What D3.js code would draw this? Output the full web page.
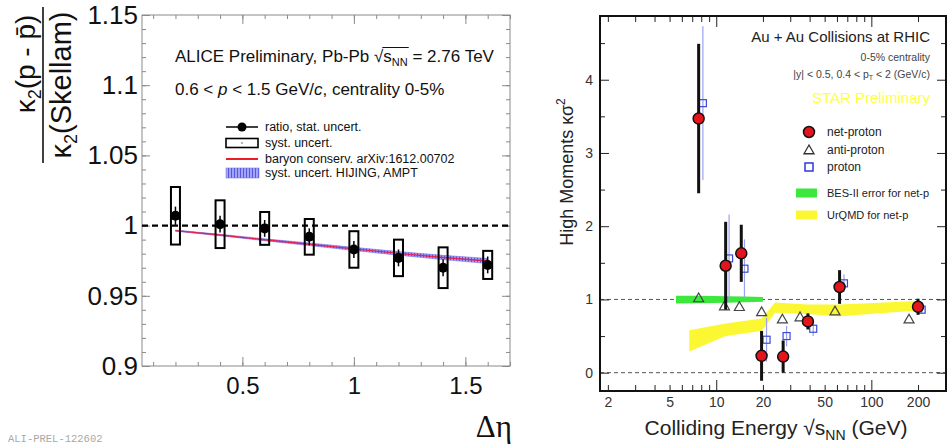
<!DOCTYPE html>
<html>
<head>
<meta charset="utf-8">
<script src="https://cdn.jsdelivr.net/npm/d3@7"></script>
<style>
  body { margin: 0; background: #fff; }
  svg { display: block; font-family: "Liberation Sans", Arial, sans-serif; }
</style>
</head>
<body>
<div id="chart"></div>
<script>
// left panel: ALICE ratio vs delta eta
var detaVals = [0.2, 0.4, 0.6, 0.8, 1.0, 1.2, 1.4, 1.6];
var ratioVals = [1.007, 1.001, 0.998, 0.992, 0.983, 0.977, 0.970, 0.972];
var statErr = [0.0025, 0.002, 0.002, 0.002, 0.002, 0.002, 0.002, 0.002];
var systErr = [0.0205, 0.017, 0.0117, 0.0127, 0.013, 0.013, 0.0145, 0.010];
var baryonVals = [0.9964, 0.9933, 0.9899, 0.9867, 0.9834, 0.9802, 0.9773, 0.9748];
var hijingErr = [0.0004, 0.0005, 0.0007, 0.0009, 0.0011, 0.0013, 0.0015, 0.0018];
var leftYTicks = [0.9, 0.95, 1, 1.05, 1.1, 1.15];
var leftXTicks = [0.5, 1, 1.5];

// right panel: STAR kappa sigma^2 vs energy
var netpEnergy = [7.7, 11.5, 14.5, 19.6, 27, 39, 62.4, 200];
var netpVals = [3.47, 1.46, 1.63, 0.23, 0.22, 0.70, 1.17, 0.90];
var netpErr = [1.02, 0.60, 0.39, 0.34, 0.22, 0.11, 0.23, 0.11];
var antiEnergy = [7.7, 11.3, 14.1, 19.6, 26.7, 34.7, 58.3, 175];
var antiVals = [1.02, 0.91, 0.90, 0.83, 0.73, 0.76, 0.84, 0.73];
var protonEnergy = [8.2, 12.1, 15.2, 21.1, 28.4, 42.2, 66.6, 211];
var protonVals = [3.68, 1.56, 1.42, 0.45, 0.50, 0.60, 1.22, 0.86];
var protonErr = [1.05, 0.60, 0.40, 0.30, 0.14, 0.10, 0.12, 0.05];
var besEnergy = [5.5, 11.5, 20];
var besLow = [0.945, 0.955, 0.97];
var besHigh = [1.05, 1.045, 1.035];
var urqmdEnergy = [6.7, 11.5, 19.6, 24, 39, 62.4, 200];
var urqmdLow = [0.29, 0.50, 0.57, 0.82, 0.80, 0.77, 0.85];
var urqmdHigh = [0.58, 0.67, 0.74, 0.96, 0.93, 0.93, 0.98];
var rightXTicks = [2, 5, 10, 20, 50, 100, 200];
var rightYTicks = [0, 1, 2, 3, 4];

var svg = d3.select("#chart").append("svg")
  .attr("width", 947).attr("height", 447);

var defs = svg.append("defs");
var pat = defs.append("pattern").attr("id", "hatch")
  .attr("patternUnits", "userSpaceOnUse").attr("width", 3).attr("height", 3);
pat.append("rect").attr("width", 3).attr("height", 3).attr("fill", "#a4a4f4");
pat.append("line").attr("x1", 0.5).attr("x2", 0.5).attr("y1", 0).attr("y2", 3)
  .attr("stroke", "#5656e4").attr("stroke-width", 1);

function addAxis(parent, axis, tx, ty, color) {
  var g = parent.append("g")
    .attr("transform", "translate(" + tx + "," + ty + ")")
    .call(axis);
  g.select(".domain").remove();
  g.selectAll(".tick line").attr("stroke", color);
  return g;
}

function fmt(d) { return String(+d.toFixed(2)); }

// ---------------- left panel ----------------
var xL = d3.scaleLinear().domain([0.05, 1.7]).range([142, 510]);
var yL = d3.scaleLinear().domain([0.9, 1.15]).range([366, 15]);
var left = svg.append("g");
var grey = "#8a8a8a";

var minorYL = d3.range(0, 26).map(function(i) { return +(0.9 + i * 0.01).toFixed(2); });
var minorXL = d3.range(1, 18).map(function(i) { return +(i * 0.1).toFixed(1); });

left.append("rect").attr("x", 142).attr("y", 15).attr("width", 368).attr("height", 351)
  .attr("fill", "none").attr("stroke", grey).attr("stroke-width", 1);

addAxis(left, d3.axisLeft(yL).tickValues(minorYL).tickSize(-4).tickFormat(""), 142, 0, grey);
addAxis(left, d3.axisRight(yL).tickValues(minorYL).tickSize(-4).tickFormat(""), 510, 0, grey);
addAxis(left, d3.axisRight(yL).tickValues(leftYTicks).tickSize(-8).tickFormat(""), 510, 0, grey);
var ylAx = addAxis(left, d3.axisLeft(yL).tickValues(leftYTicks).tickSize(-8).tickPadding(4).tickFormat(fmt), 142, 0, grey);
ylAx.attr("font-size", 26).attr("font-family", "Liberation Sans, Arial, sans-serif");
ylAx.selectAll("text").attr("fill", "#111");

addAxis(left, d3.axisBottom(xL).tickValues(minorXL).tickSize(-4).tickFormat(""), 0, 366, grey);
addAxis(left, d3.axisTop(xL).tickValues(minorXL).tickSize(-4).tickFormat(""), 0, 15, grey);
addAxis(left, d3.axisTop(xL).tickValues(leftXTicks).tickSize(-9).tickFormat(""), 0, 15, grey);
var xlAx = addAxis(left, d3.axisBottom(xL).tickValues(leftXTicks).tickSize(-9).tickPadding(11).tickFormat(fmt), 0, 366, grey);
xlAx.attr("font-size", 24).attr("font-family", "Liberation Sans, Arial, sans-serif");
xlAx.selectAll("text").attr("fill", "#111");

// reference line at 1
left.append("line").attr("x1", xL(0.05)).attr("x2", xL(1.7))
  .attr("y1", yL(1)).attr("y2", yL(1))
  .attr("stroke", "#000").attr("stroke-width", 2.2).attr("stroke-dasharray", "6,4");

var idx = d3.range(detaVals.length);

// HIJING/AMPT band + baryon conservation line
var band = d3.area()
  .x(function(i) { return xL(detaVals[i]); })
  .y0(function(i) { return yL(baryonVals[i] - hijingErr[i]); })
  .y1(function(i) { return yL(baryonVals[i] + hijingErr[i]); });
left.append("path").attr("d", band(idx)).attr("fill", "url(#hatch)").attr("stroke", "#7070ee").attr("stroke-width", 0.6);
left.append("path")
  .attr("d", d3.line().x(function(i) { return xL(detaVals[i]); }).y(function(i) { return yL(baryonVals[i]); })(idx))
  .attr("fill", "none").attr("stroke", "#e3245a").attr("stroke-width", 1.4);

// syst boxes
left.selectAll(".syst").data(idx).join("rect")
  .attr("class", "syst")
  .attr("x", function(i) { return xL(detaVals[i]) - 4.5; })
  .attr("width", 9)
  .attr("y", function(i) { return yL(ratioVals[i] + systErr[i]); })
  .attr("height", function(i) { return yL(ratioVals[i] - systErr[i]) - yL(ratioVals[i] + systErr[i]); })
  .attr("fill", "none").attr("stroke", "#000").attr("stroke-width", 2);

// stat bars and points
left.selectAll(".stat").data(idx).join("line")
  .attr("class", "stat")
  .attr("x1", function(i) { return xL(detaVals[i]); })
  .attr("x2", function(i) { return xL(detaVals[i]); })
  .attr("y1", function(i) { return yL(ratioVals[i] + statErr[i] + 0.004); })
  .attr("y2", function(i) { return yL(ratioVals[i] - statErr[i] - 0.004); })
  .attr("stroke", "#000").attr("stroke-width", 1.5);
left.selectAll(".pt").data(idx).join("circle")
  .attr("class", "pt")
  .attr("cx", function(i) { return xL(detaVals[i]); })
  .attr("cy", function(i) { return yL(ratioVals[i]); })
  .attr("r", 5).attr("fill", "#000");

// header texts
var t1 = left.append("text").attr("x", 175).attr("y", 62).attr("font-size", 17).attr("fill", "#111");
t1.append("tspan").text("ALICE Preliminary, Pb-Pb \u221A");
t1.append("tspan").text("s");
t1.append("tspan").attr("font-size", 11).attr("dy", 4).text("NN");
t1.append("tspan").attr("dy", -4).text(" = 2.76 TeV");
// overline of the square root
var pre = "ALICE Preliminary, Pb-Pb \u221A".length;
var node = t1.node();
var ox0 = 175 + node.getSubStringLength(0, pre) - 1;
var ox1 = 175 + node.getSubStringLength(0, pre + 3) + 1;
left.append("line").attr("x1", ox0).attr("x2", ox1).attr("y1", 62 - 14.5).attr("y2", 62 - 14.5)
  .attr("stroke", "#111").attr("stroke-width", 1);

var t2 = left.append("text").attr("x", 175).attr("y", 95).attr("font-size", 17).attr("fill", "#111");
t2.append("tspan").text("0.6 < ");
t2.append("tspan").attr("font-style", "italic").text("p");
t2.append("tspan").text(" < 1.5 GeV/");
t2.append("tspan").attr("font-style", "italic").text("c");
t2.append("tspan").text(", centrality 0-5%");

// legend
var lgx0 = 226, lgx1 = 258, lgTx = 265;
var lgRows = [127, 143, 159, 173];
var lgText = ["ratio, stat. uncert.", "syst. uncert.", "baryon conserv. arXiv:1612.00702", "syst. uncert. HIJING, AMPT"];
left.append("line").attr("x1", lgx0).attr("x2", lgx1).attr("y1", lgRows[0]).attr("y2", lgRows[0])
  .attr("stroke", "#000").attr("stroke-width", 1.5);
left.append("circle").attr("cx", (lgx0 + lgx1) / 2).attr("cy", lgRows[0]).attr("r", 4.5).attr("fill", "#000");
left.append("rect").attr("x", lgx0).attr("y", lgRows[1] - 4.5).attr("width", lgx1 - lgx0).attr("height", 9)
  .attr("fill", "none").attr("stroke", "#000").attr("stroke-width", 1.6);
left.append("circle").attr("cx", (lgx0 + lgx1) / 2).attr("cy", lgRows[1]).attr("r", 0.8).attr("fill", "#555");
left.append("line").attr("x1", lgx0).attr("x2", lgx1).attr("y1", lgRows[2]).attr("y2", lgRows[2])
  .attr("stroke", "#ee1c2a").attr("stroke-width", 2);
left.append("rect").attr("x", lgx0).attr("y", lgRows[3] - 5).attr("width", lgx1 - lgx0 + 1).attr("height", 10)
  .attr("fill", "url(#hatch)").attr("stroke", "#7a7aee").attr("stroke-width", 0.6);
left.selectAll(".lgt").data(lgText).join("text")
  .attr("class", "lgt")
  .attr("x", lgTx).attr("y", function(d, i) { return lgRows[i] + 4.3; })
  .attr("font-size", 12.5).attr("fill", "#111")
  .text(function(d) { return d; });

// y title as a fraction
var frac = svg.append("g").attr("transform", "translate(43,85) rotate(-90)");
frac.append("line").attr("x1", -78).attr("x2", 78).attr("y1", 0).attr("y2", 0)
  .attr("stroke", "#111").attr("stroke-width", 1.6);
var num = frac.append("text").attr("x", 21).attr("y", -8).attr("text-anchor", "middle")
  .attr("font-size", 28).attr("fill", "#111");
num.append("tspan").text("\u03BA");
num.append("tspan").attr("font-size", 18).attr("dy", 6).text("2");
num.append("tspan").attr("dy", -6).text("(p - p\u0304)");
var den = frac.append("text").attr("x", 0).attr("y", 28).attr("text-anchor", "middle")
  .attr("font-size", 29).attr("fill", "#111");
den.append("tspan").text("\u03BA");
den.append("tspan").attr("font-size", 18).attr("dy", 6).text("2");
den.append("tspan").attr("dy", -6).text("(Skellam)");

// x title
left.append("text").attr("x", 512).attr("y", 437).attr("text-anchor", "end")
  .attr("font-family", "Liberation Serif, Times New Roman, serif").attr("font-size", 31).attr("fill", "#111")
  .text("\u0394\u03B7");

svg.append("text").attr("x", 8).attr("y", 442)
  .attr("font-family", "Liberation Mono, DejaVu Sans Mono, monospace").attr("font-size", 10.5)
  .attr("fill", "#a8a8a8").text("ALI-PREL-122602");

// ---------------- right panel ----------------
var xR = d3.scaleLog().domain([1.78, 303]).range([600, 946]);
var yR = d3.scaleLinear().domain([-0.25, 4.87]).range([391, 16]);
var right = svg.append("g");
var ink = "#222";

var minorXR = [2, 3, 4, 5, 6, 7, 8, 9, 20, 30, 40, 50, 60, 70, 80, 90, 200, 300];
var majorXR = [10, 100];
var minorYR = [0.5, 1.5, 2.5, 3.5, 4.5];

// dashed reference lines
right.selectAll(".ref").data([0, 1]).join("line")
  .attr("class", "ref")
  .attr("x1", xR(1.78)).attr("x2", xR(303))
  .attr("y1", function(d) { return yR(d); }).attr("y2", function(d) { return yR(d); })
  .attr("stroke", "#555").attr("stroke-width", 1).attr("stroke-dasharray", "4,3");

// bands
var besIdx = d3.range(besEnergy.length);
right.append("path")
  .attr("d", d3.area().curve(d3.curveMonotoneX)
    .x(function(i) { return xR(besEnergy[i]); })
    .y0(function(i) { return yR(besLow[i]); })
    .y1(function(i) { return yR(besHigh[i]); })(besIdx))
  .attr("fill", "#3be83b");
var uIdx = d3.range(urqmdEnergy.length);
right.append("path")
  .attr("d", d3.area()
    .x(function(i) { return xR(urqmdEnergy[i]); })
    .y0(function(i) { return yR(urqmdLow[i]); })
    .y1(function(i) { return yR(urqmdHigh[i]); })(uIdx))
  .attr("fill", "#fbf733");

var nIdx = d3.range(netpEnergy.length);

// proton
right.selectAll(".pbar").data(nIdx).join("line")
  .attr("class", "pbar")
  .attr("x1", function(i) { return xR(protonEnergy[i]); })
  .attr("x2", function(i) { return xR(protonEnergy[i]); })
  .attr("y1", function(i) { return yR(protonVals[i] + protonErr[i]); })
  .attr("y2", function(i) { return yR(protonVals[i] - protonErr[i]); })
  .attr("stroke", "#9aa2f0").attr("stroke-width", 1.2);
right.selectAll(".psq").data(nIdx).join("rect")
  .attr("class", "psq")
  .attr("x", function(i) { return xR(protonEnergy[i]) - 3.5; })
  .attr("y", function(i) { return yR(protonVals[i]) - 3.5; })
  .attr("width", 7).attr("height", 7)
  .attr("fill", "none").attr("stroke", "#3a4ad8").attr("stroke-width", 1.2);

// anti-proton
function tri(cx, cy, s) {
  return "M" + cx + "," + (cy - s) + "L" + (cx + s) + "," + (cy + s * 0.75) + "L" + (cx - s) + "," + (cy + s * 0.75) + "Z";
}
right.selectAll(".atri").data(nIdx).join("path")
  .attr("class", "atri")
  .attr("d", function(i) { return tri(xR(antiEnergy[i]), yR(antiVals[i]), 5); })
  .attr("fill", "none").attr("stroke", "#444").attr("stroke-width", 1.2);

// net-proton
right.selectAll(".nbar").data(nIdx).join("line")
  .attr("class", "nbar")
  .attr("x1", function(i) { return xR(netpEnergy[i]); })
  .attr("x2", function(i) { return xR(netpEnergy[i]); })
  .attr("y1", function(i) { return yR(netpVals[i] + netpErr[i]); })
  .attr("y2", function(i) { return yR(netpVals[i] - netpErr[i]); })
  .attr("stroke", "#111").attr("stroke-width", 3);
right.selectAll(".ncirc").data(nIdx).join("circle")
  .attr("class", "ncirc")
  .attr("cx", function(i) { return xR(netpEnergy[i]); })
  .attr("cy", function(i) { return yR(netpVals[i]); })
  .attr("r", 5.5)
  .attr("fill", "#e4141c").attr("stroke", "#111").attr("stroke-width", 1.5);

// axes
addAxis(right, d3.axisBottom(xR).tickValues(minorXR).tickSize(-6).tickFormat(""), 0, 391, ink);
addAxis(right, d3.axisBottom(xR).tickValues(majorXR).tickSize(-11).tickFormat(""), 0, 391, ink);
addAxis(right, d3.axisTop(xR).tickValues(minorXR).tickSize(-6).tickFormat(""), 0, 16, ink);
addAxis(right, d3.axisTop(xR).tickValues(majorXR).tickSize(-11).tickFormat(""), 0, 16, ink);
var xrAx = addAxis(right, d3.axisBottom(xR).tickValues(rightXTicks).tickSize(0).tickPadding(6).tickFormat(d3.format("d")), 0, 391, ink);
xrAx.attr("font-size", 14).attr("font-family", "Liberation Sans, Arial, sans-serif");
xrAx.selectAll("text").attr("fill", "#333");

addAxis(right, d3.axisLeft(yR).tickValues(minorYR).tickSize(-5).tickFormat(""), 600, 0, ink);
addAxis(right, d3.axisRight(yR).tickValues(minorYR).tickSize(-5).tickFormat(""), 946, 0, ink);
addAxis(right, d3.axisRight(yR).tickValues(rightYTicks).tickSize(-9).tickFormat(""), 946, 0, ink);
var yrAx = addAxis(right, d3.axisLeft(yR).tickValues(rightYTicks).tickSize(-9).tickPadding(7).tickFormat(d3.format("d")), 600, 0, ink);
yrAx.attr("font-size", 14).attr("font-family", "Liberation Sans, Arial, sans-serif");
yrAx.selectAll("text").attr("fill", "#333");

right.append("rect").attr("x", 600).attr("y", 16).attr("width", 346).attr("height", 375)
  .attr("fill", "none").attr("stroke", "#111").attr("stroke-width", 2);

// header texts
right.append("text").attr("x", 930).attr("y", 42).attr("text-anchor", "end")
  .attr("font-size", 15).attr("fill", ink).text("Au + Au Collisions at RHIC");
right.append("text").attr("x", 930).attr("y", 61).attr("text-anchor", "end")
  .attr("font-size", 10.5).attr("fill", "#444").text("0-5% centrality");
var t3 = right.append("text").attr("x", 930).attr("y", 78).attr("text-anchor", "end")
  .attr("font-size", 10.5).attr("fill", "#444");
t3.append("tspan").text("|y| < 0.5, 0.4 < p");
t3.append("tspan").attr("font-size", 7).attr("dy", 2).text("T");
t3.append("tspan").attr("dy", -2).text(" < 2 (GeV/c)");
right.append("text").attr("x", 930).attr("y", 103).attr("text-anchor", "end")
  .attr("font-size", 15).attr("fill", "#ffff44").text("STAR Preliminary");

// legend
var rlx = 809, rlTx = 827;
var rlRows = [132, 150, 167, 193, 215];
right.append("circle").attr("cx", rlx).attr("cy", rlRows[0]).attr("r", 5.5)
  .attr("fill", "#e4141c").attr("stroke", "#111").attr("stroke-width", 1.5);
right.append("path").attr("d", tri(rlx, rlRows[1], 5)).attr("fill", "none").attr("stroke", "#333").attr("stroke-width", 1.3);
right.append("rect").attr("x", rlx - 4).attr("y", rlRows[2] - 4).attr("width", 8).attr("height", 8)
  .attr("fill", "none").attr("stroke", "#2a3ad8").attr("stroke-width", 1.5);
right.append("rect").attr("x", 796).attr("y", rlRows[3] - 4.5).attr("width", 21).attr("height", 9).attr("fill", "#3be83b");
right.append("rect").attr("x", 796).attr("y", rlRows[4] - 4.5).attr("width", 21).attr("height", 9).attr("fill", "#fbf733");
var rlText = ["net-proton", "anti-proton", "proton", "BES-II error for net-p", "UrQMD for net-p"];
right.selectAll(".rlt").data(rlText).join("text")
  .attr("class", "rlt")
  .attr("x", rlTx).attr("y", function(d, i) { return rlRows[i] + 4; })
  .attr("font-size", function(d, i) { return i < 3 ? 12 : 11; })
  .attr("fill", ink)
  .text(function(d) { return d; });

// axis titles
var yt = right.append("text").attr("transform", "translate(573,172) rotate(-90)")
  .attr("text-anchor", "middle").attr("font-size", 18).attr("fill", ink);
yt.append("tspan").text("High Moments \u03BA\u03C3");
yt.append("tspan").attr("font-size", 12).attr("dy", -8).text("2");

var xt = right.append("text").attr("x", 776).attr("y", 435).attr("text-anchor", "middle")
  .attr("font-size", 21).attr("fill", ink);
xt.append("tspan").text("Colliding Energy \u221As");
xt.append("tspan").attr("font-size", 14).attr("dy", 5).text("NN");
xt.append("tspan").attr("dy", -5).text(" (GeV)");
</script>
</body>
</html>
